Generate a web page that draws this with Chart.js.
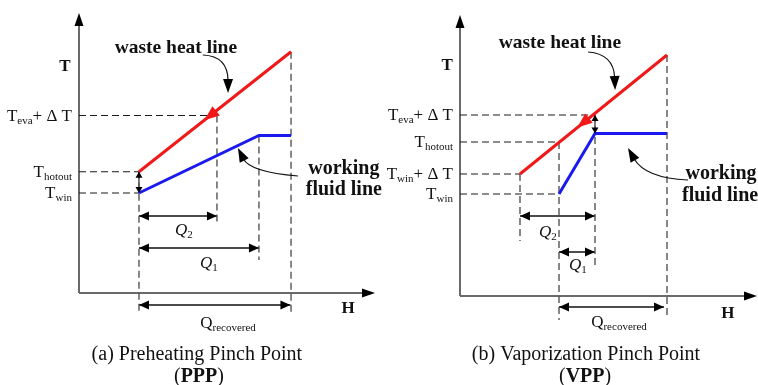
<!DOCTYPE html>
<html>
<head>
<meta charset="utf-8">
<script src="https://cdn.jsdelivr.net/npm/chart.js@4.4.1/dist/chart.umd.min.js"></script>
<style>
    html, body { margin: 0; padding: 0; background: #fff; }
    #wrap { position: relative; width: 758px; height: 385px; }
    .panel { position: absolute; top: 0; height: 385px; }
</style>
</head>
<body>
<div id="wrap">
    <div class="panel" style="left:0;width:400px"><canvas id="pppChart"></canvas></div>
    <div class="panel" style="left:379px;width:379px"><canvas id="vppChart"></canvas></div>
</div>
<script>
// (a) preheating pinch point  -- H along x, T along y (schematic units)
const pppWasteH = [2, 7.07];
const pppWasteT = [4.85, 9.65];
const pppFluidH = [2, 6, 7.07];
const pppFluidT = [4.0, 6.3, 6.3];
const pppLevelT = [7.1, 4.85, 4.0];
const pppLevelEndH = [4.6, 2, 2];
const pppLevelSub = ['eva', 'hotout', 'win'];
const pppLevelTail = ['+ Δ T', '', ''];
const pppDropH = [2, 4.6, 6, 7.07];
const pppDropTopT = [4.85, 7.1, 6.3, 9.65];
const pppDropEndT = [-0.76, 2.72, 1.32, -0.88];
const pppSpanSub = ['2', '1', 'recovered'];
const pppSpanFromH = [2, 2, 2];
const pppSpanToH = [4.6, 6, 7.05];
const pppSpanT = [3.08, 1.8, -0.48];
const pppPinchH = 2;
const pppPinchT = [4.85, 4.0];

// (b) vaporization pinch point
const vppWasteH = [2, 6.9];
const vppWasteT = [4.88, 9.64];
const vppFluidH = [3.3, 4.5, 6.9];
const vppFluidT = [4.08, 6.5, 6.5];
const vppLevelT = [7.24, 6.16, 4.88, 4.08];
const vppLevelEndH = [4.5, 3.3, 2, 3.3];
const vppLevelSub = ['eva', 'hotout', 'win', 'win'];
const vppLevelTail = ['+ Δ T', '', '+ Δ T', ''];
const vppDropH = [2, 3.3, 4.5, 6.9];
const vppDropTopT = [4.88, 6.16, 7.24, 9.64];
const vppDropEndT = [2.2, -0.96, 1.12, -0.84];
const vppSpanSub = ['2', '1', 'recovered'];
const vppSpanFromH = [2, 3.3, 3.3];
const vppSpanToH = [4.5, 4.5, 6.8];
const vppSpanT = [3.2, 1.76, -0.44];
const vppPinchH = 4.5;
const vppPinchT = [7.24, 6.5];

const SERIF = '"Liberation Serif", "Times New Roman", serif';
const RED = '#f01818';
const BLUE = '#1a1af0';
const font = (size, style) => (style ? style + ' ' : '') + size + 'px ' + SERIF;

function seg(hs, ts, color, width, dash, extra) {
    return Object.assign({
        data: hs.map((h, i) => ({ x: h, y: ts[i] })),
        showLine: true,
        borderColor: color,
        borderWidth: width,
        borderDash: dash || [],
        pointRadius: 0,
        pointHoverRadius: 0,
        fill: false,
        clip: false
    }, extra || {});
}

function head(ctx, x, y, fx, fy, len, half, color) {
    const a = Math.atan2(y - fy, x - fx);
    ctx.save();
    ctx.translate(x, y);
    ctx.rotate(a);
    ctx.beginPath();
    ctx.moveTo(0, 0);
    ctx.lineTo(-len, -half);
    ctx.lineTo(-len, half);
    ctx.closePath();
    ctx.fillStyle = color;
    ctx.fill();
    ctx.restore();
}

// parts: [text, font, dy]
function rich(ctx, parts, x, y, align) {
    let w = 0;
    const ws = parts.map(p => { ctx.font = p[1]; const m = ctx.measureText(p[0]).width; w += m; return m; });
    let cx = align === 'right' ? x - w : align === 'center' ? x - w / 2 : x;
    ctx.textAlign = 'left';
    ctx.textBaseline = 'alphabetic';
    ctx.fillStyle = '#111';
    parts.forEach((p, i) => { ctx.font = p[1]; ctx.fillText(p[0], cx, y + (p[2] || 0)); cx += ws[i]; });
}

function makeSchematic(d) {
    return {
        id: 'schematic',
        beforeDatasetsDraw(chart) {
            const ctx = chart.ctx, a = chart.chartArea;
            const ox = chart.scales.x.getPixelForValue(0), oy = chart.scales.y.getPixelForValue(0);
            const tipX = chart.scales.x.getPixelForValue(d.hMax);
            ctx.save();
            ctx.strokeStyle = '#6a6a6a';
            ctx.lineWidth = 2;
            ctx.beginPath();
            ctx.moveTo(ox, oy); ctx.lineTo(ox, a.top + 8);
            ctx.moveTo(ox, oy); ctx.lineTo(tipX - 8, oy);
            ctx.stroke();
            head(ctx, ox, a.top, ox, oy, 13, 4.5, '#000');
            head(ctx, tipX, oy, ox, oy, 13, 4.5, '#000');
            ctx.restore();
        },
        afterDatasetsDraw(chart) {
            const ctx = chart.ctx, sx = chart.scales.x, sy = chart.scales.y;
            const P = (h, t) => [sx.getPixelForValue(h), sy.getPixelForValue(t)];
            ctx.save();
            // arrowheads on span / pinch lines, flow arrow on waste heat line
            chart.data.datasets.forEach((ds, i) => {
                const pts = chart.getDatasetMeta(i).data;
                if (ds.arrows) {
                    const p0 = pts[0], p1 = pts[pts.length - 1];
                    head(ctx, p0.x, p0.y, p1.x, p1.y, ds.headLen, ds.headHalf, '#000');
                    head(ctx, p1.x, p1.y, p0.x, p0.y, ds.headLen, ds.headHalf, '#000');
                }
                if (ds.flowAt) {
                    const p0 = pts[0], p1 = pts[pts.length - 1];
                    const x = p0.x + (p1.x - p0.x) * ds.flowAt, y = p0.y + (p1.y - p0.y) * ds.flowAt;
                    head(ctx, x, y, p1.x, p1.y, 15, 6, RED);
                }
            });
            // curved pointers from labels to the lines
            d.pointers.forEach(pt => {
                const s = P(pt[0], pt[1]), c = P(pt[2], pt[3]), e = P(pt[4], pt[5]);
                const back = 12, len = Math.hypot(e[0] - c[0], e[1] - c[1]);
                const bx = e[0] - (e[0] - c[0]) / len * back, by = e[1] - (e[1] - c[1]) / len * back;
                ctx.strokeStyle = '#111';
                ctx.lineWidth = 1.2;
                ctx.beginPath();
                ctx.moveTo(s[0], s[1]);
                ctx.quadraticCurveTo(c[0], c[1], bx, by);
                ctx.stroke();
                head(ctx, e[0], e[1], c[0], c[1], 14, 5, '#000');
            });
            // level labels left of the T axis
            const ox = sx.getPixelForValue(0);
            d.levelT.forEach((t, i) => {
                const y = sy.getPixelForValue(t) + 5;
                const parts = [['T', font(17)], [d.levelSub[i], font(11), 3]];
                if (d.levelTail[i]) parts.push([d.levelTail[i], font(17)]);
                rich(ctx, parts, ox - 7, y, 'right');
            });
            // span labels
            d.spanSub.forEach((s, i) => {
                const p = P(d.spanLabelH[i], d.spanLabelT[i]);
                const q = s === 'recovered' ? [['Q', font(17)], [s, font(11), 3]] : [['Q', font(17, 'italic')], [s, font(11), 3]];
                rich(ctx, q, p[0], p[1] + 5, 'center');
            });
            // free texts
            d.texts.forEach(tx => {
                const p = P(tx.h, tx.t);
                rich(ctx, tx.parts, p[0], p[1], 'center');
            });
            ctx.restore();
        }
    };
}

function makePanel(id, d) {
    const datasets = [
        seg(d.wasteH, d.wasteT, RED, 3, [], { flowAt: d.flowAt }),
        seg(d.fluidH, d.fluidT, BLUE, 3)
    ];
    d.levelT.forEach((t, i) => datasets.push(seg([0, d.levelEndH[i]], [t, t], '#1a1a1a', 1.2, [7, 4])));
    d.dropH.forEach((h, i) => datasets.push(seg([h, h], [d.dropTopT[i], d.dropEndT[i]], '#555', 1.4, [7, 4])));
    d.spanFromH.forEach((h, i) => datasets.push(seg([h, d.spanToH[i]], [d.spanT[i], d.spanT[i]], '#111', 1.5, [], { arrows: true, headLen: 10, headHalf: 4.5 })));
    datasets.push(seg([d.pinchH, d.pinchH], d.pinchT, '#111', 1.1, [], { arrows: true, headLen: 6, headHalf: 3.5 }));

    return new Chart(document.getElementById(id).getContext('2d'), {
        type: 'scatter',
        data: { datasets: datasets },
        options: {
            responsive: true,
            maintainAspectRatio: false,
            animation: false,
            events: [],
            layout: { padding: d.padding },
            scales: {
                x: { type: 'linear', display: false, min: 0, max: d.xMax },
                y: { type: 'linear', display: false, min: 0, max: d.tMax }
            },
            plugins: { legend: { display: false }, tooltip: { enabled: false } }
        },
        plugins: [makeSchematic(d)]
    });
}

const bold = s => font(s, 'bold');

// left canvas is wider than its half so "fluid line" is not cut off
const pppChart = makePanel('pppChart', {
    wasteH: pppWasteH, wasteT: pppWasteT, fluidH: pppFluidH, fluidT: pppFluidT,
    levelT: pppLevelT, levelEndH: pppLevelEndH, levelSub: pppLevelSub, levelTail: pppLevelTail,
    dropH: pppDropH, dropTopT: pppDropTopT, dropEndT: pppDropEndT,
    spanSub: pppSpanSub, spanFromH: pppSpanFromH, spanToH: pppSpanToH, spanT: pppSpanT,
    pinchH: pppPinchH, pinchT: pppPinchT,
    flowAt: 0.43,
    padding: { left: 79, top: 13, right: 4, bottom: 92 },
    hMax: 9.87, xMax: 10.57, tMax: 11.2,
    spanLabelH: [3.5, 4.33, 4.97], spanLabelT: [2.52, 1.2, -1.2],
    pointers: [
        [4.13, 9.52, 4.97, 9.48, 4.97, 8.0],
        [7.3, 4.68, 5.7, 4.84, 5.3, 5.8]
    ],
    texts: [
        { h: 3.23, t: 9.6, parts: [['waste heat line', bold(19.5)]] },
        { h: 8.83, t: 4.75, parts: [['working', bold(20)]] },
        { h: 8.83, t: 3.92, parts: [['fluid line', bold(20)]] },
        { h: -0.47, t: 8.9, parts: [['T', bold(17)]] },
        { h: 8.97, t: -0.78, parts: [['H', bold(17)]] },
        { h: 3.93, t: -2.66, parts: [['(a) Preheating Pinch Point', font(20)]] },
        { h: 4.0, t: -3.54, parts: [['(', font(20)], ['PPP', bold(20)], [')', font(20)]] }
    ]
});

const vppChart = makePanel('vppChart', {
    wasteH: vppWasteH, wasteT: vppWasteT, fluidH: vppFluidH, fluidT: vppFluidT,
    levelT: vppLevelT, levelEndH: vppLevelEndH, levelSub: vppLevelSub, levelTail: vppLevelTail,
    dropH: vppDropH, dropTopT: vppDropTopT, dropEndT: vppDropEndT,
    spanSub: vppSpanSub, spanFromH: vppSpanFromH, spanToH: vppSpanToH, spanT: vppSpanT,
    pinchH: vppPinchH, pinchT: vppPinchT,
    flowAt: 0.39,
    padding: { left: 81, top: 15, right: 1, bottom: 89 },
    hMax: 9.9, xMax: 9.9, tMax: 11.24,
    spanLabelH: [2.93, 3.93, 5.3], spanLabelT: [2.56, 1.24, -1.04],
    pointers: [
        [4.27, 9.76, 5.13, 9.68, 5.17, 8.24],
        [7.6, 4.64, 6.17, 4.72, 5.6, 5.92]
    ],
    texts: [
        { h: 3.33, t: 9.92, parts: [['waste heat line', bold(19.5)]] },
        { h: 8.7, t: 4.7, parts: [['working', bold(20)]] },
        { h: 8.67, t: 3.82, parts: [['fluid line', bold(20)]] },
        { h: -0.43, t: 9.06, parts: [['T', bold(17)]] },
        { h: 8.93, t: -0.86, parts: [['H', bold(17)]] },
        { h: 4.2, t: -2.54, parts: [['(b) Vaporization Pinch Point', font(20)]] },
        { h: 4.17, t: -3.42, parts: [['(', font(20)], ['VPP', bold(20)], [')', font(20)]] }
    ]
});
</script>
</body>
</html>
